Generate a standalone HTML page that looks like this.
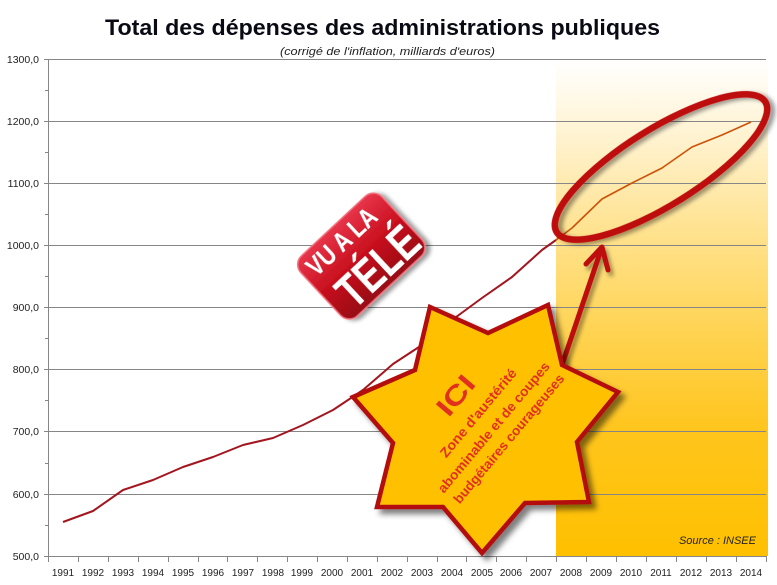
<!DOCTYPE html>
<html><head><meta charset="utf-8"><style>
html,body{margin:0;padding:0;background:#fff;}
svg{display:block;}
text{font-family:"Liberation Sans",sans-serif;}
</style></head><body>
<svg width="777" height="585" viewBox="0 0 777 585" xmlns="http://www.w3.org/2000/svg">
<defs>
<linearGradient id="og" x1="0" y1="59" x2="0" y2="556" gradientUnits="userSpaceOnUse">
<stop offset="0" stop-color="#FFFFFF"/>
<stop offset="0.15" stop-color="#FFF3D2"/>
<stop offset="0.35" stop-color="#FFE28E"/>
<stop offset="0.55" stop-color="#FFD352"/>
<stop offset="0.75" stop-color="#FFC51C"/>
<stop offset="1" stop-color="#FFC000"/>
</linearGradient>
<linearGradient id="bg" x1="0" y1="-40" x2="0" y2="42" gradientUnits="userSpaceOnUse">
<stop offset="0" stop-color="#E8344A"/>
<stop offset="0.5" stop-color="#C8101E"/>
<stop offset="1" stop-color="#960812"/>
</linearGradient>
<filter id="sh" x="-20%" y="-20%" width="150%" height="150%">
<feDropShadow dx="5" dy="5" stdDeviation="3" flood-color="#000" flood-opacity="0.5"/>
</filter>
<filter id="sh2" x="-20%" y="-20%" width="150%" height="150%">
<feDropShadow dx="3" dy="4" stdDeviation="2" flood-color="#000" flood-opacity="0.4"/>
</filter>
</defs>

<!-- orange region -->
<rect x="556" y="59" width="212" height="497" fill="url(#og)"/>

<!-- gridlines -->
<g stroke="#868686" stroke-width="1">
<line x1="48" y1="59.5" x2="766" y2="59.5"/>
<line x1="48" y1="121.5" x2="766" y2="121.5"/>
<line x1="48" y1="183.5" x2="766" y2="183.5"/>
<line x1="48" y1="245.5" x2="766" y2="245.5"/>
<line x1="48" y1="307.5" x2="766" y2="307.5"/>
<line x1="48" y1="369.5" x2="766" y2="369.5"/>
<line x1="48" y1="431.5" x2="766" y2="431.5"/>
<line x1="48" y1="494.5" x2="766" y2="494.5"/>
<line x1="48" y1="556.5" x2="766" y2="556.5"/>
<line x1="48.5" y1="59" x2="48.5" y2="557"/>
</g>
<!-- y ticks -->
<g stroke="#868686" stroke-width="1">
<line x1="44" y1="59.5" x2="48" y2="59.5"/><line x1="45" y1="90.5" x2="48" y2="90.5"/>
<line x1="44" y1="121.5" x2="48" y2="121.5"/><line x1="45" y1="152.5" x2="48" y2="152.5"/>
<line x1="44" y1="183.5" x2="48" y2="183.5"/><line x1="45" y1="214.5" x2="48" y2="214.5"/>
<line x1="44" y1="245.5" x2="48" y2="245.5"/><line x1="45" y1="276.5" x2="48" y2="276.5"/>
<line x1="44" y1="307.5" x2="48" y2="307.5"/><line x1="45" y1="338.5" x2="48" y2="338.5"/>
<line x1="44" y1="369.5" x2="48" y2="369.5"/><line x1="45" y1="400.5" x2="48" y2="400.5"/>
<line x1="44" y1="431.5" x2="48" y2="431.5"/><line x1="45" y1="463.5" x2="48" y2="463.5"/>
<line x1="44" y1="494.5" x2="48" y2="494.5"/><line x1="45" y1="525.5" x2="48" y2="525.5"/>
<line x1="44" y1="556.5" x2="48" y2="556.5"/>
</g>
<!-- x ticks -->
<g stroke="#868686" stroke-width="1">
<line x1="48.5" y1="556" x2="48.5" y2="562"/><line x1="78.5" y1="556" x2="78.5" y2="562"/>
<line x1="108.5" y1="556" x2="108.5" y2="562"/><line x1="138.5" y1="556" x2="138.5" y2="562"/>
<line x1="168.5" y1="556" x2="168.5" y2="562"/><line x1="198.5" y1="556" x2="198.5" y2="562"/>
<line x1="227.5" y1="556" x2="227.5" y2="562"/><line x1="257.5" y1="556" x2="257.5" y2="562"/>
<line x1="287.5" y1="556" x2="287.5" y2="562"/><line x1="317.5" y1="556" x2="317.5" y2="562"/>
<line x1="347.5" y1="556" x2="347.5" y2="562"/><line x1="377.5" y1="556" x2="377.5" y2="562"/>
<line x1="407.5" y1="556" x2="407.5" y2="562"/><line x1="437.5" y1="556" x2="437.5" y2="562"/>
<line x1="466.5" y1="556" x2="466.5" y2="562"/><line x1="496.5" y1="556" x2="496.5" y2="562"/>
<line x1="526.5" y1="556" x2="526.5" y2="562"/><line x1="556.5" y1="556" x2="556.5" y2="562"/>
<line x1="586.5" y1="556" x2="586.5" y2="562"/><line x1="616.5" y1="556" x2="616.5" y2="562"/>
<line x1="646.5" y1="556" x2="646.5" y2="562"/><line x1="676.5" y1="556" x2="676.5" y2="562"/>
<line x1="706.5" y1="556" x2="706.5" y2="562"/><line x1="736.5" y1="556" x2="736.5" y2="562"/>
<line x1="766.5" y1="556" x2="766.5" y2="562"/>
</g>

<!-- y labels -->
<g font-size="10.5" fill="#222" text-anchor="end">
<text x="39" y="63">1300,0</text>
<text x="39" y="125">1200,0</text>
<text x="39" y="187">1100,0</text>
<text x="39" y="249">1000,0</text>
<text x="39" y="311">900,0</text>
<text x="39" y="373">800,0</text>
<text x="39" y="435">700,0</text>
<text x="39" y="498">600,0</text>
<text x="39" y="560">500,0</text>
</g>
<!-- x labels -->
<g font-size="10" fill="#222" text-anchor="middle">
<text x="63" y="576">1991</text><text x="93" y="576">1992</text><text x="123" y="576">1993</text>
<text x="153" y="576">1994</text><text x="183" y="576">1995</text><text x="213" y="576">1996</text>
<text x="243" y="576">1997</text><text x="273" y="576">1998</text><text x="302" y="576">1999</text>
<text x="332" y="576">2000</text><text x="362" y="576">2001</text><text x="392" y="576">2002</text>
<text x="422" y="576">2003</text><text x="452" y="576">2004</text><text x="482" y="576">2005</text>
<text x="511" y="576">2006</text><text x="541" y="576">2007</text><text x="571" y="576">2008</text>
<text x="601" y="576">2009</text><text x="631" y="576">2010</text><text x="661" y="576">2011</text>
<text x="691" y="576">2012</text><text x="721" y="576">2013</text><text x="751" y="576">2014</text>
</g>

<!-- data line -->
<polyline fill="none" stroke="#A3151F" stroke-width="2" stroke-linejoin="round"
 points="63,522 93,511 123,490 153,480 183,467 213,457 243,445 273,438 303,425 333,410 363,390 393,364 422,345 452,320 482,298 512,277 542,250 556,240"/>
<polyline fill="none" stroke="#CC5208" stroke-width="1.6" stroke-linejoin="round"
 points="556,240 572,228 602,199 632,183 662,168 692,147 722,135 751,122"/>

<!-- ellipse -->
<ellipse cx="661" cy="167" rx="123" ry="38" transform="rotate(-32 661 167)" fill="none" stroke="#BE0C0C" stroke-width="6.5" filter="url(#sh2)"/>

<!-- arrow -->
<g stroke="#BE0C0C" stroke-width="5" fill="none" stroke-linecap="round" stroke-linejoin="round" filter="url(#sh2)">
<line x1="562" y1="365" x2="601" y2="250"/>
<polyline points="586,264 602,247 608,270"/>
</g>

<!-- badge -->
<g transform="translate(361,255) rotate(-43)" filter="url(#sh2)">
<rect x="-56" y="-40" width="111" height="82" rx="12" fill="url(#bg)" stroke="#F0707C" stroke-width="1.5"/>
<text x="-48" y="-14" font-size="27" font-weight="bold" fill="#fff" textLength="86" lengthAdjust="spacingAndGlyphs">VU A LA</text>
<text x="-43" y="36" font-size="47" font-weight="bold" fill="#fff" textLength="95" lengthAdjust="spacingAndGlyphs">TÉLÉ</text>
</g>

<!-- star -->
<polygon points="430,307 488,333 548,305 562,365 618,392 577,442 589,502 525,503 482,553 443,507 377,507 393,443 353,397 415,370"
 fill="#FFC000" stroke="#B31010" stroke-width="4.5" stroke-linejoin="miter" filter="url(#sh)"/>
<g transform="translate(500,430) rotate(-50)" fill="#E2301F" font-weight="bold" text-anchor="middle">
<text x="-2" y="-47" font-size="27" textLength="44" lengthAdjust="spacingAndGlyphs">ICI</text>
<text x="-1" y="-23" font-size="13.5" textLength="111" lengthAdjust="spacingAndGlyphs">Zone d'austérité</text>
<text x="-2" y="-2" font-size="13.5" textLength="166" lengthAdjust="spacingAndGlyphs">abominable et de coupes</text>
<text x="-1" y="17" font-size="13.5" textLength="164" lengthAdjust="spacingAndGlyphs">budgétaires courageuses</text>
</g>

<!-- source -->
<text x="756" y="544" font-size="11" font-style="italic" fill="#222" text-anchor="end">Source : INSEE</text>

<!-- title -->
<text x="105" y="35" font-size="22" font-weight="bold" fill="#0a0a14" textLength="555" lengthAdjust="spacingAndGlyphs">Total des dépenses des administrations publiques</text>
<text x="280" y="55" font-size="11" font-style="italic" fill="#222" textLength="215" lengthAdjust="spacingAndGlyphs">(corrigé de l'inflation, milliards d'euros)</text>
</svg>
</body></html>
